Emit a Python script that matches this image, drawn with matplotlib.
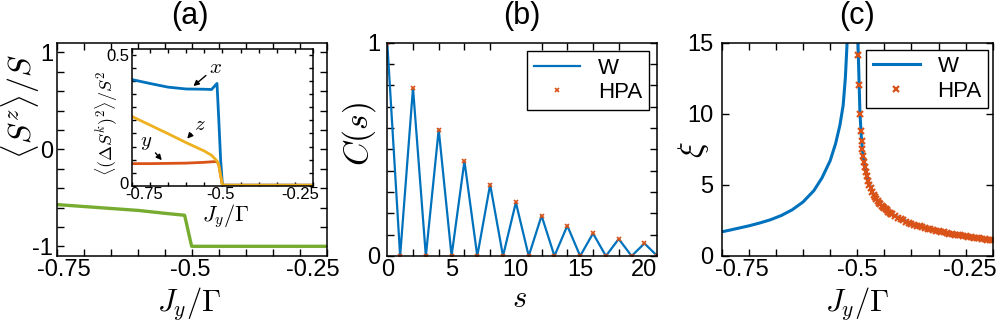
import matplotlib
matplotlib.use("Agg")
import matplotlib.pyplot as plt
import matplotlib.transforms as mtransforms
import numpy as np

plt.rcParams['font.family'] = ['Liberation Sans', 'DejaVu Sans']
plt.rcParams['mathtext.fontset'] = 'cm'

BLUE = '#0072BD'
RED = '#D95319'
ORANGE = '#EDB120'
GREEN = '#77AC30'

# (a) main: <S^z>/S vs Jy/Gamma
jy_a = [-0.75, -0.70, -0.65, -0.60, -0.55, -0.514, -0.501, -0.45, -0.40, -0.35, -0.30, -0.25]
sz_a = [-0.57, -0.59, -0.61, -0.63, -0.66, -0.68, -1.0, -1.0, -1.0, -1.0, -1.0, -1.0]

# (a) inset: variances
jy_in = [-0.75, -0.70, -0.65, -0.60, -0.55, -0.53, -0.515, -0.51, -0.505, -0.50, -0.45, -0.40, -0.35, -0.30, -0.25]
var_x = [0.405, 0.39, 0.376, 0.369, 0.368, 0.367, 0.39, 0.25, 0.10, 0.003, 0.003, 0.003, 0.003, 0.003, 0.003]
var_y = [0.085, 0.085, 0.086, 0.087, 0.09, 0.092, 0.093, 0.08, 0.04, 0.003, 0.003, 0.003, 0.003, 0.003, 0.003]
var_z = [0.265, 0.232, 0.199, 0.165, 0.133, 0.117, 0.095, 0.08, 0.04, 0.003, 0.003, 0.003, 0.003, 0.003, 0.003]

# (b) correlation function
s_b = [0, 1, 2, 3, 4, 5, 6, 7, 8, 9, 10, 11, 12, 13, 14, 15, 16, 17, 18, 19, 20, 21]
c_b = [1.0, 0, 0.788, 0, 0.593, 0, 0.445, 0, 0.335, 0, 0.251, 0, 0.189, 0, 0.142, 0, 0.106, 0, 0.080, 0, 0.059, 0]

# (c) correlation length, W (line)
jy_w = [-0.75, -0.735, -0.72, -0.70, -0.68, -0.66, -0.64, -0.62, -0.60, -0.58, -0.565, -0.55,
        -0.54, -0.532, -0.526, -0.522, -0.519, -0.516, -0.505, -0.4992, -0.498, -0.495, -0.492,
        -0.489, -0.486, -0.48, -0.47, -0.46, -0.45, -0.43, -0.40, -0.37, -0.34, -0.30, -0.25]
xi_w = [1.70, 1.82, 1.95, 2.12, 2.32, 2.55, 2.85, 3.25, 3.80, 4.60, 5.50, 6.70,
        7.90, 9.20, 10.6, 12.5, 14.8, 18.0, np.nan, 16.0, 14.1, 10.0, 8.1,
        7.0, 6.25, 5.3, 4.3, 3.75, 3.35, 2.80, 2.27, 1.92, 1.64, 1.36, 1.09]

# (c) correlation length, HPA (markers)
jy_h = [-0.498, -0.4965, -0.495, -0.4935, -0.492, -0.4905, -0.489, -0.4875, -0.486, -0.484,
        -0.482, -0.48, -0.4775, -0.475, -0.4725, -0.47, -0.4675, -0.465, -0.4625, -0.46,
        -0.4575, -0.455, -0.4525, -0.45, -0.4475, -0.445, -0.4425, -0.44, -0.4375, -0.435,
        -0.43, -0.425, -0.42, -0.415, -0.41, -0.405, -0.40, -0.395, -0.39, -0.385,
        -0.38, -0.375, -0.37, -0.365, -0.36, -0.355, -0.35, -0.345, -0.34, -0.335,
        -0.33, -0.325, -0.32, -0.315, -0.31, -0.305, -0.30, -0.295, -0.29, -0.285,
        -0.28, -0.275, -0.27, -0.265, -0.26, -0.255, -0.25]
xi_h = [14.1, 12.0, 10.0, 8.8, 8.1, 7.5, 7.0, 6.6, 6.25, 5.9,
        5.6, 5.3, 5.0, 4.75, 4.5, 4.3, 4.15, 4.0, 3.87, 3.75,
        3.65, 3.55, 3.45, 3.35, 3.27, 3.2, 3.12, 3.05, 2.98, 2.92,
        2.8, 2.7, 2.6, 2.5, 2.42, 2.34, 2.27, 2.2, 2.14, 2.08,
        2.02, 1.97, 1.92, 1.87, 1.83, 1.78, 1.74, 1.70, 1.66, 1.62,
        1.58, 1.55, 1.51, 1.48, 1.45, 1.42, 1.39, 1.36, 1.33, 1.30,
        1.27, 1.24, 1.21, 1.18, 1.15, 1.12, 1.09]


def lab(vals, keep):
    out = []
    for v in vals:
        if any(abs(v - k) < 1e-9 for k in keep):
            out.append('0' if abs(v) < 1e-9 else '%g' % v)
        else:
            out.append('')
    return out


def style(ax, xt, xl, yt, yl, size):
    ax.set_xticks(xt)
    ax.set_xticklabels(xl)
    ax.set_yticks(yt)
    ax.set_yticklabels(yl)
    ax.tick_params(direction='in', top=True, right=True, length=5, width=1,
                   labelsize=size, pad=2)
    for sp in ax.spines.values():
        sp.set_linewidth(1.1)


def nudge(labels, shifts, vertical=False):
    # move individual tick labels by a few pixels
    for lbl in labels:
        d = shifts.get(lbl.get_text(), 0)
        if d:
            dx, dy = (0, d) if vertical else (d, 0)
            off = mtransforms.ScaledTranslation(dx / 100.0, dy / 100.0, fig.dpi_scale_trans)
            lbl.set_transform(lbl.get_transform() + off)


fig = plt.figure(figsize=(10.02, 3.21), dpi=100)

jy_ticks = list(np.round(np.arange(-0.75, -0.2499, 0.05), 3))
jy_labels = lab(jy_ticks, [-0.75, -0.5, -0.25])

# ---- (a)
axa = fig.add_axes([0.0572, 0.2025, 0.2692, 0.6645])
axa.plot(jy_a, sz_a, color=GREEN, lw=2.4)
axa.set_xlim(-0.75, -0.25)
axa.set_ylim(-1.1, 1.1)
yt = list(np.round(np.arange(-1.0, 1.001, 0.2), 2))
style(axa, jy_ticks, jy_labels, yt, lab(yt, [-1, 0, 1]), 17)
axa.tick_params(axis='y', pad=3)
axa.set_xlabel(r'$J_y/\Gamma$', fontsize=22)
axa.xaxis.set_label_coords(0.49, -0.135)
axa.set_ylabel(r'$\langle S^z\rangle/S$', fontsize=23)
axa.yaxis.set_label_coords(-0.058, 0.70)
axa.text(0.49, 1.125, '(a)', transform=axa.transAxes, ha='center', va='center', fontsize=22)

# ---- (a) inset
axi = fig.add_axes([0.1314, 0.4206, 0.1812, 0.4259])
axi.plot(jy_in, var_x, color=BLUE, lw=2)
axi.plot(jy_in, var_y, color=RED, lw=2)
axi.plot(jy_in, var_z, color=ORANGE, lw=2)
axi.set_xlim(-0.75, -0.25)
axi.set_ylim(0, 0.52)
yti = list(np.round(np.arange(0, 0.501, 0.05), 2))
style(axi, jy_ticks, jy_labels, yti, lab(yti, [0, 0.5]), 12)
axi.tick_params(length=3, pad=1)
axi.tick_params(axis='y', pad=2)
axi.set_xlabel(r'$J_y/\Gamma$', fontsize=16)
axi.xaxis.set_label_coords(0.52, -0.115)
axi.set_ylabel(r'$\langle(\Delta S^k)^2\rangle/S^2$', fontsize=13)
axi.yaxis.set_label_coords(-0.065, 0.46)
arr = dict(arrowstyle='-|>', color='k', lw=1, mutation_scale=8, shrinkA=0, shrinkB=0)
axi.annotate(r'$x$', xy=(-0.58, 0.38), xytext=(-0.52, 0.45), fontsize=15,
             ha='center', va='center', arrowprops=arr)
axi.annotate(r'$z$', xy=(-0.597, 0.18), xytext=(-0.562, 0.235), fontsize=15,
             ha='center', va='center', arrowprops=arr)
axi.annotate(r'$y$', xy=(-0.667, 0.098), xytext=(-0.709, 0.165), fontsize=15,
             ha='center', va='center', arrowprops=arr)

# ---- (b)
axb = fig.add_axes([0.3865, 0.2025, 0.2695, 0.6645])
axb.plot(s_b, c_b, color=BLUE, lw=1.6, label='W')
axb.plot(s_b, c_b, 'x', color=RED, ms=3.5, mew=1.2, label='HPA')
axb.set_xlim(0, 21)
axb.set_ylim(0, 1)
axb.set_xticks([0, 5, 10, 15, 20])
axb.set_xticks(list(range(0, 21, 2)), minor=True)
axb.tick_params(axis='x', which='major', length=0)
axb.tick_params(axis='x', which='minor', direction='in', top=True, length=5, width=1)
ytb = list(np.round(np.arange(0, 1.001, 0.1), 1))
axb.set_yticks(ytb)
axb.set_yticklabels(lab(ytb, [0, 1]))
axb.tick_params(axis='y', direction='in', right=True, length=5, width=1)
axb.tick_params(labelsize=17, pad=2)
axb.tick_params(axis='y', pad=5)
for sp in axb.spines.values():
    sp.set_linewidth(1.1)
axb.set_xlabel(r'$s$', fontsize=22)
axb.xaxis.set_label_coords(0.49, -0.13)
axb.set_ylabel(r'$C(s)$', fontsize=24)
axb.yaxis.set_label_coords(-0.035, 0.57)
axb.text(0.5, 1.125, '(b)', transform=axb.transAxes, ha='center', va='center', fontsize=22)
lg = axb.legend(loc='upper right', bbox_to_anchor=(0.969, 0.961), fontsize=16,
                fancybox=False, framealpha=1, edgecolor='k', handlelength=2.1,
                labelspacing=0.15, borderpad=0.3, handletextpad=0.8, borderaxespad=0)
lg.get_frame().set_linewidth(1.0)

# ---- (c)
axc = fig.add_axes([0.7203, 0.2025, 0.2705, 0.6645])
axc.plot(jy_w, xi_w, color=BLUE, lw=2.2, label='W')
axc.plot(jy_h, xi_h, 'x', color=RED, ms=4.5, mew=1.6, label='HPA')
axc.set_xlim(-0.75, -0.25)
axc.set_ylim(0, 15)
style(axc, jy_ticks, jy_labels, [0, 5, 10, 15], ['0', '5', '10', '15'], 17)
axc.tick_params(axis='y', pad=6)
axc.set_xlabel(r'$J_y/\Gamma$', fontsize=22)
axc.xaxis.set_label_coords(0.50, -0.135)
axc.set_ylabel(r'$\xi$', fontsize=24)
axc.yaxis.set_label_coords(-0.04, 0.50)
axc.text(0.5, 1.125, '(c)', transform=axc.transAxes, ha='center', va='center', fontsize=22)
lg = axc.legend(loc='upper right', bbox_to_anchor=(0.984, 0.968), fontsize=16,
                fancybox=False, framealpha=1, edgecolor='k', handlelength=2.1,
                labelspacing=0.15, borderpad=0.3, handletextpad=0.8, borderaxespad=0)
lg.get_frame().set_linewidth(1.0)

nudge(axa.get_xticklabels(), {'-0.75': 7, '-0.5': -2, '-0.25': -14})
nudge(axi.get_xticklabels(), {'-0.75': 12, '-0.5': -2, '-0.25': -13})
nudge(axi.get_yticklabels(), {'0': 3}, vertical=True)
nudge(axc.get_xticklabels(), {'-0.75': 20, '-0.25': -23})

fig.savefig('out.png', dpi=100)
